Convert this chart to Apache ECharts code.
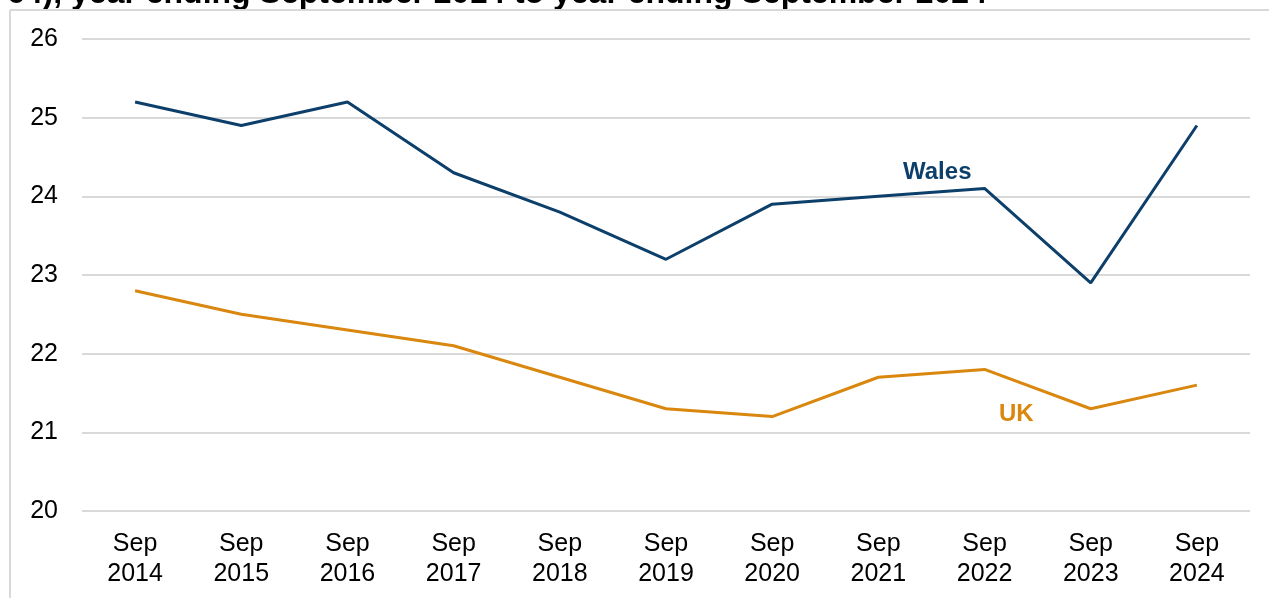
<!DOCTYPE html>
<html>
<head>
<meta charset="utf-8">
<script src="https://cdn.jsdelivr.net/npm/echarts@6/dist/echarts.min.js"></script>
<style>
html,body{margin:0;padding:0;background:#fff;}
#chart{width:1269px;height:598px;}
</style>
</head>
<body>
<div id="chart"></div>
<script>
const categories = ['Sep\n2014','Sep\n2015','Sep\n2016','Sep\n2017','Sep\n2018','Sep\n2019','Sep\n2020','Sep\n2021','Sep\n2022','Sep\n2023','Sep\n2024'];
const walesValues = [25.2, 24.9, 25.2, 24.3, 23.8, 23.2, 23.9, 24.0, 24.1, 22.9, 24.9];
const ukValues = [22.8, 22.5, 22.3, 22.1, 21.7, 21.3, 21.2, 21.7, 21.8, 21.3, 21.6];
const yTicks = [20, 21, 22, 23, 24, 25, 26];
const titleText = '64), year ending September 2014 to year ending September 2024';

const FONT = '"Liberation Sans", Arial, sans-serif';
const WALES = '#0D3F6B';
const UK = '#D9870E';

const chart = echarts.init(document.getElementById('chart'));
chart.setOption({
  animation: false,
  backgroundColor: '#fff',
  title: {
    text: titleText,
    left: 2,
    top: -27,
    textStyle: { fontFamily: FONT, fontSize: 32, fontWeight: 'bold', color: '#000' }
  },
  graphic: [
    { type: 'line', shape: { x1: 10, y1: 10, x2: 1269, y2: 10 }, style: { stroke: '#d9d9d9', lineWidth: 2 }, z: 10 },
    { type: 'line', shape: { x1: 10, y1: 10, x2: 10, y2: 598 }, style: { stroke: '#d9d9d9', lineWidth: 2 }, z: 10 },
    { type: 'text', left: 903, top: 160, style: { text: 'Wales', fill: WALES, font: 'bold 24px ' + FONT } },
    { type: 'text', left: 999, top: 402, style: { text: 'UK', fill: UK, font: 'bold 24px ' + FONT } }
  ],
  grid: { left: 82, right: 19, top: 39, bottom: 87, containLabel: false },
  xAxis: {
    type: 'category',
    data: categories,
    boundaryGap: true,
    axisLine: { show: false },
    axisTick: { show: false },
    axisLabel: { fontFamily: FONT, fontSize: 25, color: '#000', margin: 18, lineHeight: 30, interval: 0 }
  },
  yAxis: {
    type: 'value',
    min: yTicks[0],
    max: yTicks[yTicks.length - 1],
    interval: 1,
    axisLine: { show: false },
    axisTick: { show: false },
    axisLabel: { fontFamily: FONT, fontSize: 25, color: '#000', margin: 24 },
    splitLine: { lineStyle: { color: '#d9d9d9', width: 2 } }
  },
  series: [
    { name: 'Wales', type: 'line', data: walesValues, symbol: 'none', lineStyle: { color: WALES, width: 3 } },
    { name: 'UK', type: 'line', data: ukValues, symbol: 'none', lineStyle: { color: UK, width: 3 } }
  ]
});
</script>
</body>
</html>
